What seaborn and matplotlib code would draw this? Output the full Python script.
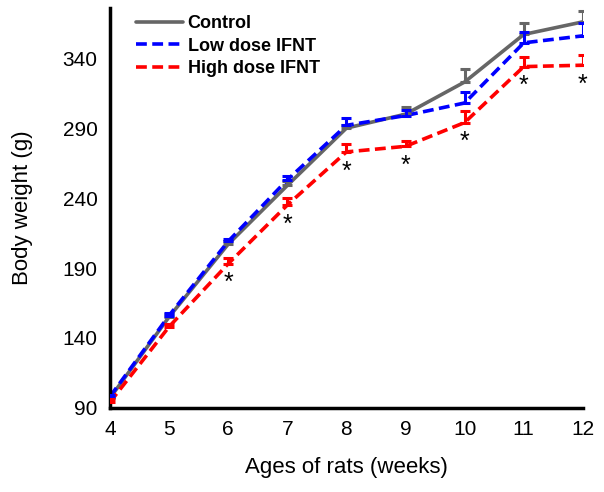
import numpy as np
import pandas as pd
import matplotlib
matplotlib.use("Agg")
import matplotlib.pyplot as plt
import seaborn as sns

# ages (weeks) and mean body weights (g)
weeks = [4, 5, 6, 7, 8, 9, 10, 11, 12]
control = [97, 155, 207, 249, 290, 300, 323, 357, 366]
low_dose = [98, 156, 209, 253, 292, 299, 308, 351, 356]
high_dose = [94, 148, 193, 235, 273, 277, 294, 334, 335]

# upper error bars (SE)
control_se = [1, 2, 2, 3, 2, 5, 9, 8, 8]
low_se = [1, 2, 2, 3, 5, 4, 8, 8, 9]
high_se = [2, 2, 4, 5, 6, 4, 8, 7, 7]

# weeks with significant difference (high dose)
sig_weeks = [6, 7, 8, 9, 10, 11, 12]

groups = ["Control", "Low dose IFNT", "High dose IFNT"]
colors = {"Control": "#666666", "Low dose IFNT": "#0000ff", "High dose IFNT": "#ff0000"}

df = pd.DataFrame({
    "week": weeks * 3,
    "weight": control + low_dose + high_dose,
    "se": control_se + low_se + high_se,
    "group": sum([[g] * len(weeks) for g in groups], []),
})

sns.set_style("white")
plt.rcParams["font.family"] = ["Liberation Sans", "DejaVu Sans"]
plt.rcParams["text.color"] = "black"
plt.rcParams["axes.labelcolor"] = "black"

fig = plt.figure(figsize=(6.04, 4.92), dpi=100)
ax = fig.add_axes([0.182, 0.171, 0.783, 0.813])

sns.lineplot(data=df, x="week", y="weight", hue="group", style="group",
             palette=colors, dashes={"Control": "", "Low dose IFNT": (3, 1.5),
                                     "High dose IFNT": (3, 1.5)},
             linewidth=2.6, ax=ax, legend=True)

for g in groups:
    sub = df[df["group"] == g]
    ax.errorbar(sub["week"], sub["weight"], yerr=[np.zeros(len(sub)), sub["se"]],
                fmt="none", ecolor=colors[g], elinewidth=2.2, capsize=3.5,
                capthick=2.2, zorder=3)

# asterisks under the high dose points
hd = df[df["group"] == "High dose IFNT"].set_index("week")
for w in sig_weeks:
    ax.annotate("*", (w, hd.loc[w, "weight"]), xytext=(0, -14),
                textcoords="offset points", ha="center", va="center",
                fontsize=18, color="black")

ax.set_xlim(4, 12)
ax.set_ylim(90, 376)
ax.set_xticks(weeks)
ax.set_yticks([90, 140, 190, 240, 290, 340])
ax.tick_params(axis="both", direction="out", length=6, width=2.2,
               labelsize=15, color="black", labelcolor="black", pad=3)
for s in ["top", "right"]:
    ax.spines[s].set_visible(False)
for s in ["left", "bottom"]:
    ax.spines[s].set_linewidth(2.5)
    ax.spines[s].set_color("black")
ax.set_xlabel("Ages of rats (weeks)", fontsize=16, labelpad=13)
ax.set_ylabel("Body weight (g)", fontsize=16, labelpad=21)

leg = ax.legend(loc="upper left", bbox_to_anchor=(0.04, 1.0), frameon=False,
                handlelength=2.6, handletextpad=0.25, labelspacing=0.3,
                borderaxespad=0, prop={"weight": "bold", "size": 13})
for h in leg.get_lines():
    h.set_linewidth(2.6)

fig.savefig("out.png", dpi=100)
